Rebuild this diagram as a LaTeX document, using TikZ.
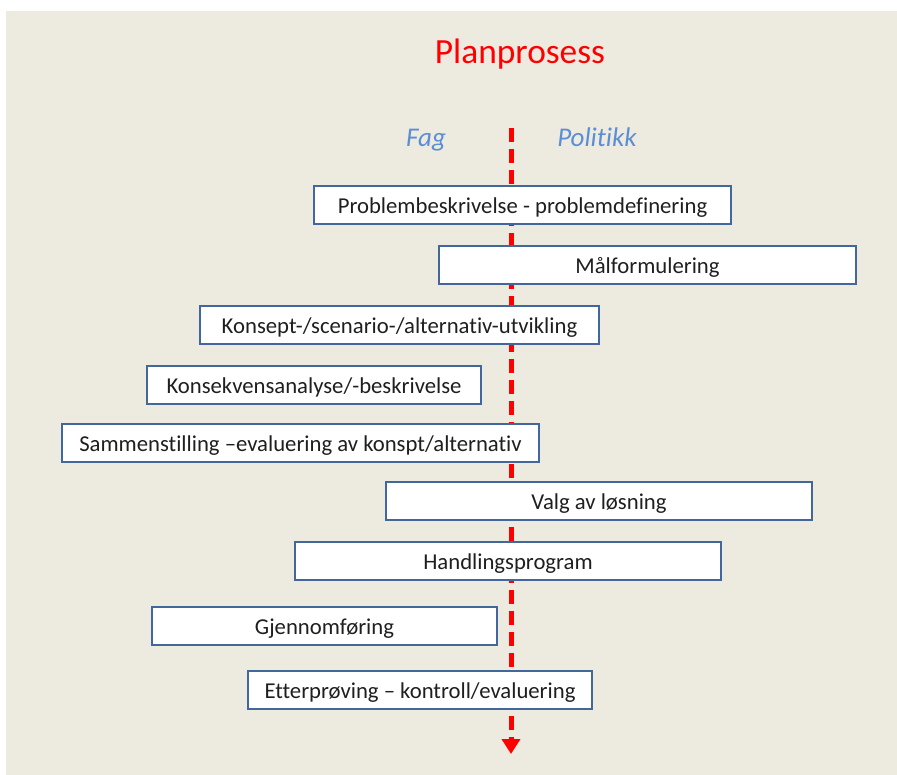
\documentclass[tikz,border=0pt]{standalone}
\usepackage{fontspec}
\setmainfont[Ligatures=NoCommon]{Carlito}
\usetikzlibrary{arrows.meta}
\definecolor{bgbeige}{HTML}{EDEAE0}
\definecolor{boxblue}{HTML}{41679C}
\definecolor{labelblue}{HTML}{5B8ED6}
\definecolor{flowred}{HTML}{FF0000}
\tikzset{
  stage/.style={draw=boxblue, line width=2pt, fill=white, minimum height=38pt,
    inner sep=0pt, text height=18.5pt, text depth=1.5pt,
    font=\fontsize{22.7}{27}\selectfont, text=black!88},
  sidelabel/.style={anchor=base, font=\fontsize{27}{32}\selectfont\itshape, text=labelblue},
  flow/.style={draw=flowred, line width=5pt, dash pattern=on 14pt off 7pt,
    -{Triangle[width=18pt,length=15pt]}}
}
\begin{document}
\begin{tikzpicture}[x=1pt,y=-1pt]
\useasboundingbox (0,0) rectangle (897,774);
% slide background with a thin white strip on the left and top
\fill[bgbeige] (-20,-20) rectangle (920,800);
\fill[white] (-20,-20) rectangle (920,11);
\fill[white] (-20,-20) rectangle (6,800);

% title and column headings
\node[anchor=base, font=\fontsize{35.4}{42}\selectfont, text=flowred] (title) at (520,63) {Planprosess};
\node[sidelabel] (fag) at (426,146.5) {Fag};
\node[sidelabel] (pol) at (597,146.5) {Politikk};

% the process axis
\coordinate (axtop) at (511,128);
\coordinate (axend) at (511,754);
\draw[flow] (axtop) -- (axend);

% process stages
\node[stage, minimum width=417pt] (s1) at (522.5,205) {Problembeskrivelse - problemdefinering};
\node[stage, minimum width=417pt] (s2) at (647.5,265) {Målformulering};
\node[stage, minimum width=399pt] (s3) at (399.5,325) {Konsept-/scenario-/alternativ-utvikling};
\node[stage, minimum width=334pt] (s4) at (314,385) {Konsekvensanalyse/-beskrivelse};
\node[stage, minimum width=477pt] (s5) at (300.5,443) {Sammenstilling –evaluering av konspt/alternativ};
\node[stage, minimum width=426pt] (s6) at (599,501) {Valg av løsning};
\node[stage, minimum width=426pt] (s7) at (508,561) {Handlingsprogram};
\node[stage, minimum width=345pt] (s8) at (324.5,626) {Gjennomføring};
\node[stage, minimum width=344pt] (s9) at (420,690) {Etterprøving – kontroll/evaluering};
\end{tikzpicture}
\end{document}
